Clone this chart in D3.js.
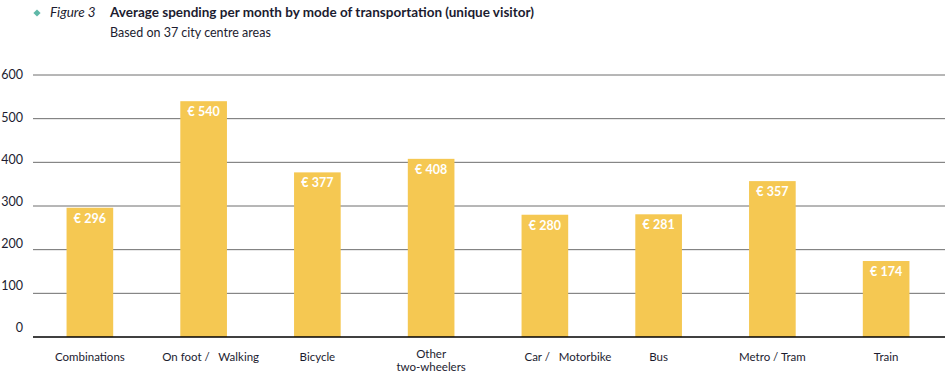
<!DOCTYPE html>
<html><head>
<meta charset="utf-8">
<script src="https://d3js.org/d3.v7.min.js"></script>
<style>
  body { margin: 0; background: #fff; }
  text { font-family: Lato, "Open Sans", sans-serif; fill: #1c1c30; }
</style>
</head>
<body>
<svg id="chart" width="945" height="376"></svg>
<script>
// data
const modes = ["Combinations", "On foot /   Walking", "Bicycle", "Other|two-wheelers",
               "Car /   Motorbike", "Bus", "Metro / Tram", "Train"];
const spending = [296, 540, 377, 408, 280, 281, 357, 174];
const yTicks = [0, 100, 200, 300, 400, 500, 600];

let svg = d3.select("svg#chart");
let width = +svg.attr("width");

let x = d3.scaleBand().domain(modes).range([33, 943]).paddingInner(0.59).paddingOuter(0.295);
let y = d3.scaleLinear().domain([0, 600]).range([337, 75]);
// the tick labels drift slightly from the gridlines in the original
let yLab = d3.scaleLinear().domain([0, 600]).range([328, 75]);
// a couple of labels sit off-centre in the original
let nudge = { "On foot /   Walking": 7, "Car /   Motorbike": 23 };

// title
svg.append("path")
  .attr("d", d3.symbol(d3.symbolSquare, 26)())
  .attr("transform", "translate(37,13) rotate(45)")
  .attr("fill", "#5fb8a8");
svg.append("text").attr("x", 50).attr("y", 17)
  .style("font-style", "italic").style("font-size", "13.5px").text("Figure 3");
svg.append("text").attr("x", 110).attr("y", 17)
  .style("font-weight", "bold").style("font-size", "13.5px")
  .text("Average spending per month by mode of transportation (unique visitor)");
svg.append("text").attr("x", 110).attr("y", 37)
  .style("font-size", "12.5px").text("Based on 37 city centre areas");

// gridlines
svg.append("g").selectAll("line")
  .data(yTicks.filter(d => d > 0))
  .join("line")
  .attr("x1", 33).attr("x2", width)
  .attr("y1", d => y(d)).attr("y2", d => y(d))
  .attr("stroke", "#6e6e6e").attr("stroke-width", 1);

svg.append("g").selectAll("text")
  .data(yTicks)
  .join("text")
  .attr("x", 23).attr("y", d => yLab(d))
  .attr("dy", "0.35em")
  .attr("text-anchor", "end")
  .style("font-size", "12.5px")
  .text(d => d);

// bars
svg.append("g").selectAll("rect")
  .data(spending)
  .join("rect")
  .attr("x", (d, i) => x(modes[i]))
  .attr("width", x.bandwidth())
  .attr("y", d => y(d))
  .attr("height", d => y(0) - y(d))
  .attr("fill", "#f5c852");

svg.append("g").selectAll("text")
  .data(spending)
  .join("text")
  .attr("x", (d, i) => x(modes[i]) + x.bandwidth() / 2)
  .attr("y", d => y(d) + 15)
  .attr("text-anchor", "middle")
  .style("font-size", "12.5px")
  .style("font-weight", "bold")
  .style("fill", "#fff")
  .text(d => "€ " + d);

// baseline
svg.append("line")
  .attr("x1", 33).attr("x2", width)
  .attr("y1", y(0)).attr("y2", y(0))
  .attr("stroke", "#000").attr("stroke-width", 1.5);

// category labels
let lab = svg.append("g").selectAll("text")
  .data(modes)
  .join("text")
  .attr("x", d => x(d) + x.bandwidth() / 2 + (nudge[d] || 0))
  .attr("y", d => d.includes("|") ? 358 : 361)
  .attr("text-anchor", "middle")
  .style("font-size", "11.5px")
  .style("white-space", "pre");
lab.each(function(d) {
  let parts = d.split("|");
  d3.select(this).selectAll("tspan")
    .data(parts)
    .join("tspan")
    .attr("x", d3.select(this).attr("x"))
    .attr("dy", (p, i) => i ? 13 : 0)
    .text(p => p);
});
</script>
</body>
</html>
